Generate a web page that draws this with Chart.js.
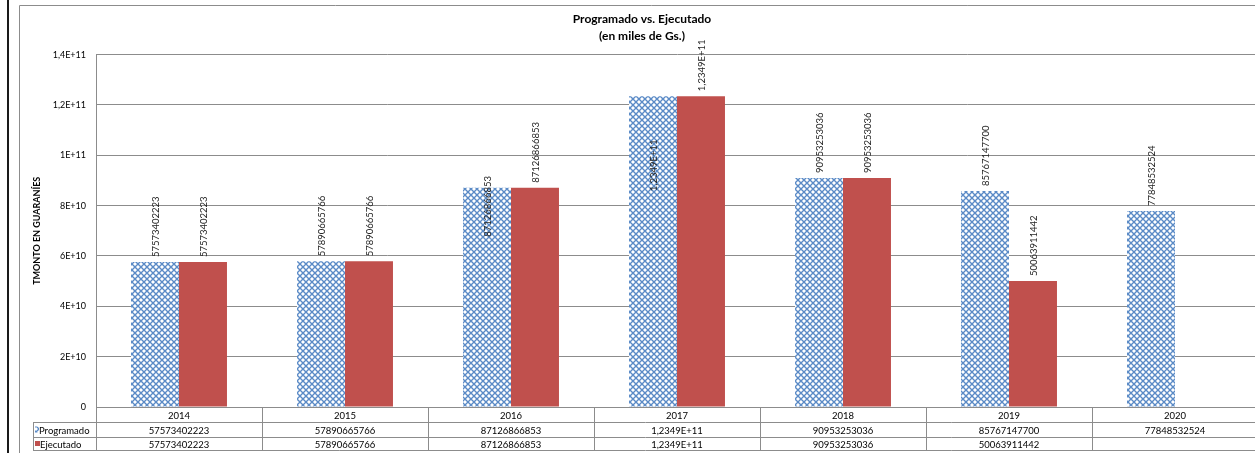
<!DOCTYPE html>
<html><head><meta charset="utf-8">
<script src="https://cdn.jsdelivr.net/npm/chart.js@4/dist/chart.umd.min.js"></script>
<style>
html,body{margin:0;padding:0;background:#fff;overflow:hidden;width:1255px;height:453px;}
#wrap{position:absolute;left:0;top:0;width:1284px;height:453px;}
</style></head><body>
<div id="wrap"><canvas id="c"></canvas></div>
<script>
const categories = ['2014','2015','2016','2017','2018','2019','2020'];
const programado = [57573402223, 57890665766, 87126866853, 123490000000, 90953253036, 85767147700, 77848532524];
const ejecutado = [57573402223, 57890665766, 87126866853, 123490000000, 90953253036, 50063911442, null];
const seriesNames = ['Programado', 'Ejecutado'];
const yTickLabels = ['0', '2E+10', '4E+10', '6E+10', '8E+10', '1E+11', '1,2E+11', '1,4E+11'];
const chartTitle = ['Programado vs. Ejecutado', '(en miles de Gs.)'];
const yAxisTitle = 'TMONTO EN GUARANÍES';

// manual label nudges (pixels downward), as in the original chart
const labelNudge = { '0-2': 54, '0-3': 100 };

function fmt(v) {
  if (v == null) return '';
  if (v >= 1e11) {
    const e = Math.floor(Math.log10(v));
    return (v / Math.pow(10, e)).toPrecision(5).replace(/0+$/, '').replace('.', ',') + 'E+' + e;
  }
  return String(v);
}

function makePattern() {
  const t = document.createElement('canvas');
  t.width = 6; t.height = 6;
  const g = t.getContext('2d');
  g.fillStyle = '#ffffff'; g.fillRect(0, 0, 6, 6);
  g.strokeStyle = '#5a8ac6'; g.lineWidth = 1.4;
  g.beginPath();
  g.moveTo(-1, -1); g.lineTo(7, 7);
  g.moveTo(7, -1); g.lineTo(-1, 7);
  g.stroke();
  return g.createPattern(t, 'repeat');
}

const frame = {
  id: 'frame',
  beforeDraw(chart) {
    const ctx = chart.ctx;
    ctx.save();
    ctx.fillStyle = '#1a1a1a';
    ctx.fillRect(7, 0, 2, chart.height);
    ctx.strokeStyle = '#8c8c8c'; ctx.lineWidth = 1;
    ctx.beginPath();
    ctx.moveTo(19.5, chart.height); ctx.lineTo(19.5, 5.5); ctx.lineTo(chart.width, 5.5);
    ctx.stroke();
    ctx.restore();
  }
};

const barLabels = {
  id: 'barLabels',
  afterDatasetsDraw(chart, args, o) {
    const ctx = chart.ctx;
    const gap = o.gap;
    ctx.save();
    ctx.font = '9.5px Lato';
    ctx.fillStyle = '#262626';
    ctx.textAlign = 'left';
    ctx.textBaseline = 'middle';
    chart.data.datasets.forEach((ds, di) => {
      const meta = chart.getDatasetMeta(di);
      meta.data.forEach((bar, i) => {
        const v = ds.data[i];
        if (v == null) return;
        const shift = labelNudge[di + '-' + i] || 0;
        ctx.save();
        ctx.translate(bar.x + 1, bar.y - gap + shift);
        ctx.rotate(-Math.PI / 2);
        ctx.fillText(fmt(v), 0, 0);
        ctx.restore();
      });
    });
    ctx.restore();
  }
};

const dataTable = {
  id: 'dataTable',
  afterDraw(chart, args, o) {
    const ctx = chart.ctx, ca = chart.chartArea, xs = chart.scales.x;
    const n = categories.length;
    const w = (ca.right - ca.left) / n;
    const y0 = Math.round(ca.bottom), y1 = y0 + o.rowH[0], y2 = y1 + o.rowH[1], y3 = y2 + o.rowH[2];
    ctx.save();
    ctx.strokeStyle = o.lineColor; ctx.lineWidth = 1;
    const hl = (a, b, y) => { ctx.beginPath(); ctx.moveTo(a, y + 0.5); ctx.lineTo(b, y + 0.5); ctx.stroke(); };
    const vl = (x, a, b) => { x = Math.round(x) + 0.5; ctx.beginPath(); ctx.moveTo(x, a); ctx.lineTo(x, b + 1); ctx.stroke(); };
    hl(ca.left, ca.right, y0);
    hl(o.left, ca.right, y1);
    hl(o.left, ca.right, y2);
    hl(o.left, ca.right, y3);
    vl(o.left, y1, y3);
    for (let i = 0; i <= n; i++) vl(ca.left + i * w, y0, y3);
    ctx.font = '9.5px Lato';
    ctx.fillStyle = '#000';
    ctx.textAlign = 'center';
    ctx.textBaseline = 'middle';
    const rows = [programado, ejecutado];
    categories.forEach((c, i) => {
      const cx = xs.getPixelForValue(i);
      ctx.fillText(c, cx, (y0 + y1) / 2 + 1);
      ctx.fillText(fmt(rows[0][i]), cx, (y1 + y2) / 2 + 1);
      ctx.fillText(fmt(rows[1][i]), cx, (y2 + y3) / 2 + 1);
    });
    ctx.textAlign = 'left';
    ctx.fillText(seriesNames[0], o.left + 6, (y1 + y2) / 2 + 1);
    ctx.fillText(seriesNames[1], o.left + 7, (y2 + y3) / 2 + 1);
    ctx.fillStyle = chart.data.datasets[0].backgroundColor;
    ctx.fillRect(o.left + 2, (y1 + y2) / 2 - 3, 4, 6);
    ctx.fillStyle = chart.data.datasets[1].backgroundColor;
    ctx.fillRect(o.left + 2, (y2 + y3) / 2 - 2.5, 5, 5);
    ctx.restore();
  }
};

function draw() {
  Chart.defaults.font.family = 'Lato';
  Chart.defaults.color = '#000';
  new Chart(document.getElementById('c'), {
    type: 'bar',
    data: {
      labels: categories,
      datasets: [
        { label: seriesNames[0], data: programado, backgroundColor: makePattern(), borderWidth: 0 },
        { label: seriesNames[1], data: ejecutado, backgroundColor: '#c0504d', borderWidth: 0 }
      ]
    },
    options: {
      responsive: true,
      maintainAspectRatio: false,
      animation: false,
      datasets: { bar: { categoryPercentage: 0.578, barPercentage: 1 } },
      layout: { padding: { left: 26, right: 26, top: 0, bottom: 0 } },
      plugins: {
        legend: { display: false },
        tooltip: { enabled: false },
        title: {
          display: true, text: chartTitle, color: '#000',
          font: { size: 12, weight: 'bold', lineHeight: 1.4 },
          padding: { top: 10.5, bottom: 10.5 }
        },
        barLabels: { gap: 5 },
        dataTable: { rowH: [15, 15, 13], left: 33, lineColor: '#8c8c8c' }
      },
      scales: {
        x: {
          display: true,
          ticks: { display: false },
          grid: { display: false },
          border: { display: false },
          afterFit(s) { s.height = 46; }
        },
        y: {
          min: 0, max: 1.4e11,
          ticks: {
            stepSize: 2e10, padding: 10, color: '#000', font: { size: 9 },
            callback: (v) => yTickLabels[Math.round(v / 2e10)]
          },
          grid: { color: '#8c8c8c', drawTicks: false },
          border: { color: '#8c8c8c' },
          title: {
            display: true, text: yAxisTitle, color: '#000',
            font: { size: 9, weight: 'bold' },
            padding: { top: 5.6, bottom: 0 }
          },
          afterFit(s) { s.width = 70; }
        }
      }
    },
    plugins: [frame, barLabels, dataTable]
  });
}

if (document.fonts && document.fonts.load) {
  Promise.all([document.fonts.load('9px Lato'), document.fonts.load('bold 12px Lato')]).then(draw, draw);
} else {
  draw();
}
</script>
</body></html>
